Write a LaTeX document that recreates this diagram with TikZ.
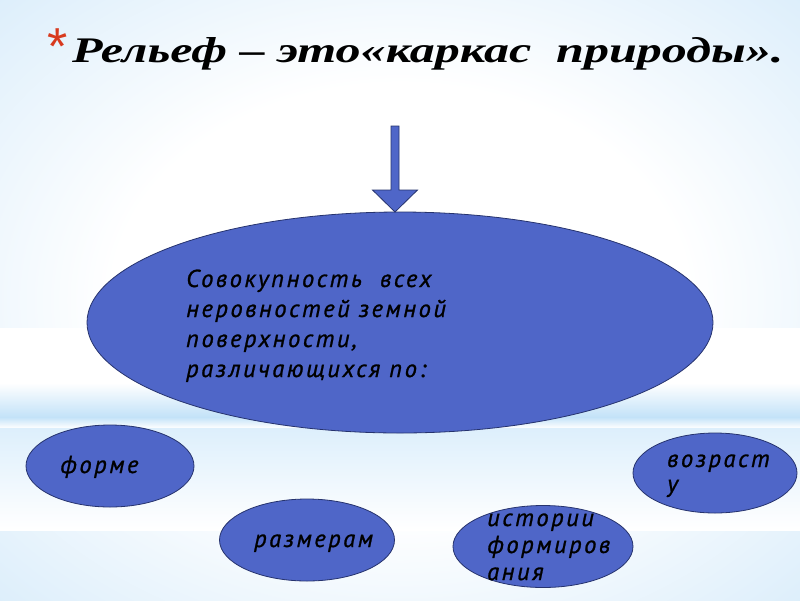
\documentclass[tikz,border=0pt]{standalone}
\usepackage{fontspec}
\usepackage{tikz}
\usetikzlibrary{shapes.geometric, calc}
\setmainfont{Liberation Serif}
\newfontfamily\titlefont[FakeStretch=1.39]{Liberation Serif}
\newfontfamily\bodyfont[LetterSpace=10.5, FakeBold=1]{PT Sans}
\newfontfamily\starfont{Liberation Sans}
\definecolor{slideblue}{HTML}{4F66C8}
\definecolor{slideedge}{HTML}{26336E}
\definecolor{bgedge}{HTML}{A3D2F5}
\definecolor{bgmid}{HTML}{D4EAFA}
\definecolor{bandblue}{HTML}{C3E2F8}
\definecolor{bandpale}{HTML}{DDEFFC}
\definecolor{starred}{HTML}{D83A1E}
\pgfdeclareradialshading{slideglow}{\pgfpoint{0bp}{0bp}}{color(0bp)=(white); color(18bp)=(white); color(40bp)=(bgmid); color(71bp)=(bgedge)}

\begin{document}
\begin{tikzpicture}[x=1pt, y=-1pt,
  bubble/.style={ellipse, draw=slideedge, line width=0.8pt, fill=slideblue, inner sep=0pt, outer sep=0pt},
  leaf/.style={bubble, minimum height=82pt},
  bubbletext/.style={font=\bodyfont\itshape\fontsize{24.5}{30}\selectfont, align=left, anchor=base west, inner sep=0pt},
  blockarrow/.style={draw=slideedge, line width=0.8pt, fill=slideblue, line join=miter}]
% background
\useasboundingbox (0,0) rectangle (800,600);
\shade[shading=slideglow] (0,0) rectangle (800,600);
\fill[white] (0,328) rectangle (800,383);
\shade[top color=white, bottom color=bandblue] (0,383) rectangle (800,417);
\shade[top color=bandblue, bottom color=white] (0,417) rectangle (800,428);
\shade[top color=bandpale, bottom color=white] (0,428) rectangle (800,530);

% title
\node[anchor=base west, inner sep=0pt, font=\titlefont\bfseries\itshape\fontsize{36}{40}\selectfont] (title) at (72,62) {Рельеф – это«каркас\ \ природы».};
\node[anchor=base east, inner sep=0pt, text=starred, font=\starfont\fontsize{52}{52}\selectfont] (star) at (68,64) {*};

% main ellipse and arrow
\coordinate (arrowtop) at (395,126);
\node[bubble, minimum width=626pt, minimum height=221pt] (relief) at (400,322.5) {};
\draw[blockarrow] ($(arrowtop)+(-4,0)$) -- ($(arrowtop)+(4,0)$)
  -- ($(arrowtop |- relief.north)+(4,-22)$) -- ($(arrowtop |- relief.north)+(22.5,-22)$)
  -- (arrowtop |- relief.north)
  -- ($(arrowtop |- relief.north)+(-22.5,-22)$) -- ($(arrowtop |- relief.north)+(-4,-22)$) -- cycle;
\node[bubbletext] (definition) at (186,377) {Совокупность\ \ всех\\неровностей земной\\поверхности,\\различающихся по:};

% features
\node[leaf, minimum width=168pt] (form) at (110,466) {};
\node[bubbletext] (formtext) at (60,473) {форме};
\node[leaf, minimum width=175pt] (size) at (307,540) {};
\node[bubbletext] (sizetext) at (254,547) {размерам};
\node[leaf, minimum width=180pt] (history) at (543,546.5) {};
\node[bubbletext, font=\bodyfont\itshape\fontsize{24.5}{27}\selectfont] (historytext) at (487,580) {истории\\формиров\\ания};
\node[leaf, minimum width=164pt, minimum height=80pt] (age) at (715,473) {};
\node[bubbletext, font=\bodyfont\itshape\fontsize{24.5}{25}\selectfont] (agetext) at (667,492) {возраст\\у};
\end{tikzpicture}
\end{document}
